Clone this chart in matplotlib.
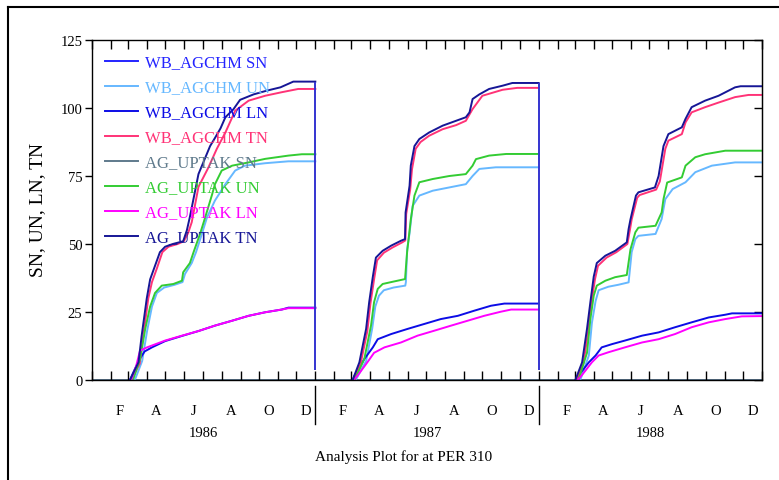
import numpy as np
import matplotlib
matplotlib.use('Agg')
import matplotlib.pyplot as plt
import matplotlib.transforms as mtransforms
from matplotlib.lines import Line2D

plt.rcParams['font.family'] = 'Liberation Serif'

# calendar / labels
years = ['1986', '1987', '1988']
month_starts = [0, 31, 59, 90, 120, 151, 181, 212, 243, 273, 304, 334]
month_mids = [45, 105, 166, 227.5, 288.5, 349.5]
month_letters = ['F', 'A', 'J', 'A', 'O', 'D']

# cumulative values per year, (day of year, value)
wb_sn_vals = [0.0, 0.0]
ag_sn_vals = [0.0, 0.0]

wb_un_86 = [(70, 0), (82, 7), (90, 18), (98, 27), (106, 32), (118, 34), (135, 35), (148, 36), (152, 39),
            (163, 43), (170, 47), (180, 54), (188, 59.8), (201, 66), (218, 72), (234, 77), (250, 78.8),
            (283, 79.7), (321, 80.4), (365, 80.4)]
wb_un_87 = [(66, 0), (83, 7), (93, 19), (98, 27), (104, 31), (112, 33), (128, 34), (147, 34.7), (148, 36),
            (150, 48), (154, 54), (159, 64), (170, 67.8), (192, 69.6), (219, 70.8), (246, 72), (257, 75),
            (268, 77.6), (295, 78.2), (365, 78.2)]
wb_un_88 = [(68, 0), (82, 9), (87, 21), (93, 29), (98, 33), (114, 34.3), (130, 35), (147, 35.9), (152, 47),
            (158, 51.8), (163, 53), (191, 53.7), (201, 59.2), (207, 66.5), (219, 70.2), (240, 72.7),
            (256, 76.4), (283, 78.8), (321, 80), (365, 80)]

wb_ln_86 = [(62, 0), (70, 4), (78, 7.7), (86, 10.5), (98, 12), (119.5, 14.3), (147, 16.2), (174, 18),
            (201, 20), (229, 21.8), (256, 23.6), (283, 24.9), (310, 25.9), (321, 26.6), (365, 26.6)]
wb_ln_87 = [(61, 0), (64, 1.6), (80, 7.7), (94, 12), (102, 15), (124, 16.9), (151, 18.8), (178, 20.6),
            (205, 22.4), (233, 23.6), (260, 25.5), (287, 27.3), (309, 28.1), (365, 28.1)]
wb_ln_88 = [(62, 0), (65, 1.6), (82, 6.5), (93, 9), (103, 12), (120, 13.2), (141, 14.5), (169, 16.3),
            (196, 17.5), (223, 19.4), (250, 21.2), (278, 23), (305, 24), (316, 24.5), (365, 24.5)]

wb_tn_86 = [(64, 0), (78, 6), (83, 15), (92, 30), (98, 36), (106, 41), (115, 47), (125, 49), (140, 50),
            (150, 51), (157, 54), (163, 58), (174, 71), (190, 78), (204, 85), (218, 91), (234, 99),
            (256, 102.7), (283, 104.5), (310, 105.8), (337, 107), (365, 107)]
wb_tn_87 = [(63, 0), (74, 6), (85, 18), (90, 28), (96, 37), (101, 44), (112, 46.8), (126, 48.7), (142, 50.6),
            (147, 51.3), (148.5, 61), (155, 70), (158, 77.5), (164, 85), (172, 87.5), (186, 89.8), (208, 92.2),
            (230, 93.7), (246, 95.3), (257, 99.6), (273, 104.5), (306, 106.7), (330, 107.4), (365, 107.4)]
wb_tn_88 = [(62, 0), (73, 6), (81, 18), (86, 28), (92, 37), (97, 42), (111, 45), (127, 47), (145, 50),
            (149, 55), (152, 59), (161, 67), (165, 68), (192, 70), (198, 73), (207, 85), (212, 88),
            (234, 90.4), (240, 94.7), (250, 98.4), (272, 100.3), (294, 102), (321, 104), (343, 104.8),
            (365, 104.8)]

ag_un_86 = [(67, 0), (78.5, 7.7), (87, 18.8), (95, 27), (103, 32), (114, 34.7), (133, 35.3), (147, 36.5),
            (149, 39.6), (160, 43), (166, 47), (177, 54), (185, 59.8), (196, 68), (201, 72), (212, 77),
            (229, 78.8), (256, 80), (283, 81.3), (321, 82.5), (343, 83), (365, 83)]
ag_un_87 = [(64, 0), (80, 7.7), (91, 20), (96, 28.6), (102, 33.5), (110, 35.3), (126, 36.1), (146.6, 37.1),
            (150, 47), (156, 59), (162, 67.8), (170, 72.7), (192, 73.9), (219, 75), (246, 75.7), (257, 78.8),
            (262.5, 81.2), (284, 82.5), (312, 83.1), (365, 83.1)]
ag_un_88 = [(65, 0), (79, 10), (84.5, 22.4), (90, 31), (95, 34.7), (109, 36.5), (125, 37.8), (144, 38.6),
            (147, 43.3), (150, 48), (158, 54.3), (163, 56), (191, 56.7), (201, 61.6), (204, 66.5),
            (210, 72.6), (234, 74.5), (240, 78.8), (256, 81.9), (272, 83), (305, 84.3), (365, 84.3)]

ag_ln_86 = [(64, 0), (72, 5), (78.5, 10.8), (90, 12), (119.5, 14.5), (147, 16.3), (174, 18), (201, 20),
            (229, 21.8), (256, 23.6), (283, 24.9), (310, 25.9), (321, 26.4), (365, 26.4)]
ag_ln_87 = [(63, 0), (69, 1.6), (85, 6.5), (96, 10), (113, 12), (140, 13.8), (167, 16.3), (194, 18.1),
            (222, 20), (249, 21.8), (276, 23.6), (303, 25.1), (320, 25.9), (365, 25.9)]
ag_ln_88 = [(64, 0), (70, 1.6), (87, 6.5), (98, 9), (114, 10.2), (141, 12), (169, 13.8), (196, 15),
            (223, 16.9), (250, 19.4), (278, 21.2), (305, 22.4), (332, 23.4), (365, 23.5)]

ag_tn_86 = [(62, 0), (76, 6.5), (81, 16), (89.5, 30), (95, 37), (103, 42), (111, 47), (119.5, 49), (132, 50),
            (149, 51), (155, 55), (160, 60), (174, 75.7), (193, 86), (201, 89), (210, 92.5), (218, 96.6),
            (231, 99.5), (242, 103), (264, 105), (286, 106.4), (308, 107.6), (329, 109.7), (365, 109.7)]
ag_tn_87 = [(61, 0), (72, 6.5), (83, 18.8), (88, 28.6), (94, 38), (99, 45), (110, 47.5), (124, 49.4),
            (140, 51.2), (146.6, 51.8), (147.5, 61.6), (154, 71.4), (156, 78.8), (162, 86), (170, 88.6),
            (186, 91), (208, 93.5), (230, 95.3), (246, 96.6), (252, 98.4), (257, 103.3), (268, 105),
            (284, 107), (306, 108.2), (322, 109.2), (365, 109.2)]
ag_tn_88 = [(60, 0), (71, 6.5), (79, 18.8), (84.5, 28.6), (90, 38), (95, 43), (109, 45.7), (125, 47.5),
            (144, 50.6), (147, 55.5), (150, 59), (159, 67.8), (163, 69), (190, 70.8), (196, 75), (204, 86),
            (212, 90.4), (234, 92.9), (240, 96), (250, 100.3), (272, 102.7), (294, 104.5), (321, 107.6),
            (330, 108), (365, 108)]

series = [
    ('WB_AGCHM SN', '#2424ff', None),
    ('WB_AGCHM UN', '#66b8ff', [wb_un_86, wb_un_87, wb_un_88]),
    ('WB_AGCHM LN', '#0c0ce6', [wb_ln_86, wb_ln_87, wb_ln_88]),
    ('WB_AGCHM TN', '#ff3377', [wb_tn_86, wb_tn_87, wb_tn_88]),
    ('AG_UPTAK SN', '#5f7a8c', None),
    ('AG_UPTAK UN', '#33cc33', [ag_un_86, ag_un_87, ag_un_88]),
    ('AG_UPTAK LN', '#ff00ff', [ag_ln_86, ag_ln_87, ag_ln_88]),
    ('AG_UPTAK TN', '#161696', [ag_tn_86, ag_tn_87, ag_tn_88]),
]

fig = plt.figure(figsize=(7.79, 4.81), dpi=100)
ax = fig.add_axes([92 / 779, 1 - 381 / 481, 670 / 779, 340 / 481])

year_max = [0, 0, 0]
for label, color, ydata in series:
    if ydata is None:
        ax.plot([0, 365 * 3], wb_sn_vals if 'WB' in label else ag_sn_vals,
                color=color, lw=1.4, label=label, zorder=1)
        continue
    for k, pts in enumerate(ydata):
        d = np.array([p[0] for p in pts]) + 365 * k
        v = [p[1] for p in pts]
        year_max[k] = max(year_max[k], max(v))
        ax.plot(d, v, color=color, lw=1.4, label=label if k == 0 else None)

# drop back at the start of each new year
for k in (1, 2):
    ax.vlines(365 * k, 3.5, year_max[k - 1], color='#3434d0', lw=1.4)

ax.set_xlim(0, 365 * 3)
ax.set_ylim(0, 125)

major = [365 * k + m for k in range(3) for m in month_starts] + [365 * 3]
ax.set_xticks(major)
ax.set_xticklabels([])
ax.set_xticks([365 * k + m for k in range(3) for m in month_mids], minor=True)
ax.set_xticklabels(month_letters * 3, minor=True)
ax.tick_params(axis='x', which='major', direction='in', length=6.5, width=1, top=True)
ax.tick_params(axis='x', which='minor', length=0, pad=17, labelsize=10.5)

ax.set_yticks([0, 25, 50, 75, 100, 125])
ax.tick_params(axis='y', direction='out', length=5, width=1, labelsize=10.5, pad=2)
sec = ax.secondary_yaxis('right')
sec.set_yticks([0, 25, 50, 75, 100, 125])
sec.tick_params(direction='in', length=6, width=1, labelright=False)
sec.spines['right'].set_color('#333333')

for s in ax.spines.values():
    s.set_linewidth(1.0)

trans = mtransforms.blended_transform_factory(ax.transData, ax.transAxes)
for k, yr in enumerate(years):
    ax.text(365 * k + 182.5, -0.153, yr, transform=trans, ha='center', va='center', fontsize=10.5)
for k in (1, 2):
    ax.plot([365 * k, 365 * k], [-0.018, -0.13], transform=trans, color='black', lw=1, clip_on=False)

ax.text(0.465, -0.2235, 'Analysis Plot for at PER 310', transform=ax.transAxes,
        ha='center', va='center', fontsize=11)
fig.text(38 / 779, 1 - 210 / 481, 'SN, UN, LN, TN', rotation=90, ha='center', va='center', fontsize=14)

ax.legend(loc='upper left', bbox_to_anchor=(0.0194, 0.957), frameon=False, fontsize=12,
          handlelength=2.0, handletextpad=0.42, labelspacing=0.54, borderaxespad=0, borderpad=0,
          labelcolor='linecolor')

# outer frame (left and top edges)
fig.add_artist(Line2D([8 / 779, 8 / 779], [0, 1 - 8 / 481], color='black', lw=1.5))
fig.add_artist(Line2D([8 / 779, 1], [1 - 8 / 481, 1 - 8 / 481], color='black', lw=1.5))

fig.savefig('out.png', dpi=100)
